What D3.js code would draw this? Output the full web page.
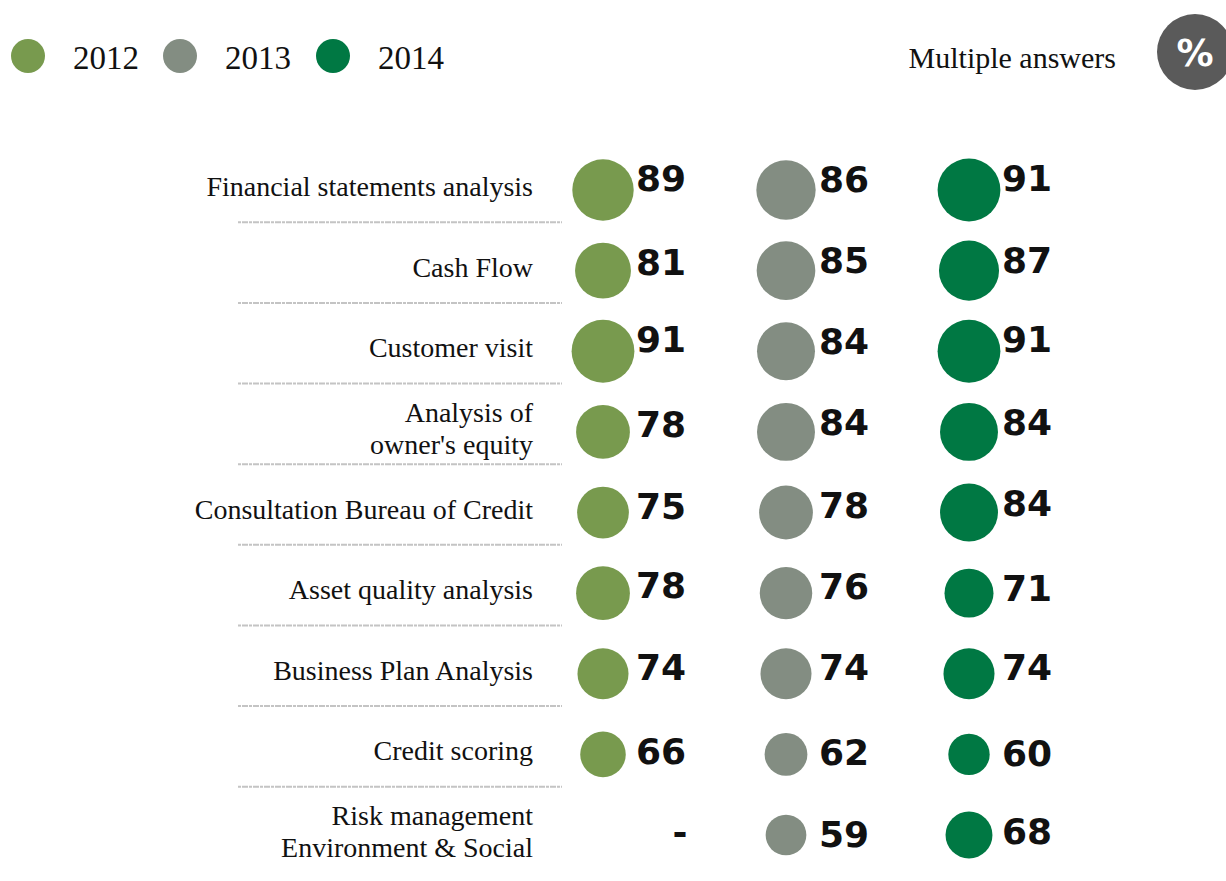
<!DOCTYPE html>
<html>
<head>
<meta charset="utf-8">
<script src="https://cdn.jsdelivr.net/npm/d3@7"></script>
<style>
  body { margin: 0; background: #fff; }
  svg { display: block; }
</style>
</head>
<body>
<svg id="chart"></svg>
<script>
// data
var years = ['2012', '2013', '2014'];
var colors = ['#789a4e', '#838d82', '#007843'];
var categories = [
    ['Financial statements analysis'],
    ['Cash Flow'],
    ['Customer visit'],
    ['Analysis of', "owner's equity"],
    ['Consultation Bureau of Credit'],
    ['Asset quality analysis'],
    ['Business Plan Analysis'],
    ['Credit scoring'],
    ['Risk management', 'Environment & Social']
];
var values2012 = [89, 81, 91, 78, 75, 78, 74, 66, null];
var values2013 = [86, 85, 84, 84, 78, 76, 74, 62, 59];
var values2014 = [91, 87, 91, 84, 84, 71, 74, 60, 68];

var width = 1226, height = 881;
var svg = d3.select('#chart').attr('width', width).attr('height', height);

var series = [values2012, values2013, values2014];

// scales
var y = d3.scalePoint()
    .domain(d3.range(categories.length))
    .range([190, 835]);
var x = d3.scalePoint()
    .domain(years)
    .range([603, 969]);
var r = d3.scaleLinear()
    .domain([0, 100])
    .range([0, 34.5]);

// legend
var legend = svg.append('g').attr('class', 'legend');
var legendX = [28, 180, 333];
years.forEach(function(yr, i) {
    legend.append('circle')
        .attr('cx', legendX[i]).attr('cy', 56).attr('r', 17)
        .style('fill', colors[i]);
    legend.append('text')
        .attr('x', legendX[i] + 45).attr('y', 69)
        .style('font-family', '"Liberation Serif", "Times New Roman", serif')
        .style('font-size', '33px')
        .style('fill', '#111')
        .text(yr);
});

// header right
svg.append('text')
    .attr('x', 1116).attr('y', 68)
    .attr('text-anchor', 'end')
    .style('font-family', '"Liberation Serif", "Times New Roman", serif')
    .style('font-size', '30px')
    .style('fill', '#111')
    .text('Multiple answers');
svg.append('circle')
    .attr('cx', 1195).attr('cy', 52).attr('r', 38)
    .style('fill', '#5a5a5a');
svg.append('text')
    .attr('x', 1195).attr('y', 66)
    .attr('text-anchor', 'middle')
    .style('font-family', '"DejaVu Sans", sans-serif')
    .style('font-weight', 'bold')
    .style('font-size', '37px')
    .style('fill', '#fff')
    .text('%');

// row labels
var rows = svg.selectAll('.row')
    .data(categories)
    .enter().append('g')
    .attr('class', 'row')
    .attr('transform', function(d, i) { return 'translate(0,' + y(i) + ')'; });

rows.append('text')
    .attr('text-anchor', 'end')
    .style('font-family', '"Liberation Serif", "Times New Roman", serif')
    .style('font-size', '28px')
    .style('fill', '#111')
    .each(function(d) {
        var t = d3.select(this);
        var n = d.length;
        d.forEach(function(line, k) {
            t.append('tspan')
                .attr('x', 533)
                .attr('y', (k - (n - 1) / 2) * 32 + 6)
                .text(line);
        });
    });

// dashed separators
var step = y.step();
svg.selectAll('.sep')
    .data(d3.range(categories.length - 1))
    .enter().append('line')
    .attr('class', 'sep')
    .attr('x1', 238).attr('x2', 562)
    .attr('y1', function(i) { return y(i) + step * 0.4; })
    .attr('y2', function(i) { return y(i) + step * 0.4; })
    .style('stroke', '#c4c4c4')
    .style('stroke-width', 2)
    .style('stroke-dasharray', '3,1,6,1');

// bubbles + values
series.forEach(function(vals, s) {
    var g = svg.append('g').attr('class', 's' + s);
    vals.forEach(function(v, i) {
        var cx = x(years[s]), cy = y(i);
        if (v === null) {
            g.append('text')
                .attr('x', cx + 77).attr('y', cy + 10)
                .attr('text-anchor', 'middle')
                .style('font-family', '"DejaVu Sans", sans-serif')
                .style('font-weight', 'bold')
                .style('font-size', '36px')
                .style('fill', '#111')
                .text('-');
            return;
        }
        g.append('circle')
            .attr('cx', cx).attr('cy', cy).attr('r', r(v))
            .style('fill', colors[s]);
        g.append('text')
            .attr('x', cx + 33)
            .attr('y', cy - r(v) + 32)
            .style('font-family', '"DejaVu Sans", sans-serif')
            .style('font-weight', 'bold')
            .style('font-size', '36px')
            .style('fill', '#111')
            .text(v);
    });
});
</script>
</body>
</html>
